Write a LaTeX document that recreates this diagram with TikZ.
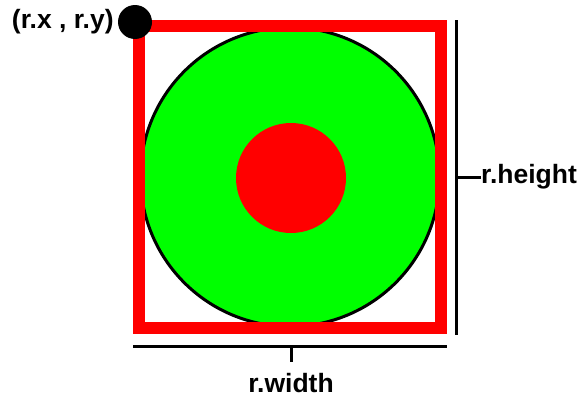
\documentclass[tikz,border=0pt]{standalone}
\usepackage{fontspec}
\setmainfont{Liberation Sans}
\usetikzlibrary{positioning}
\definecolor{RectRed}{HTML}{FF0000}
\definecolor{DiscGreen}{HTML}{00FF00}
\tikzset{
    % Shapes
    disc/.style={
        circle,
        draw=black,
        fill=DiscGreen,
        line width=3pt,
        minimum size=299pt,
        inner sep=0pt
    },
    core/.style={
        circle,
        fill=RectRed,
        minimum size=110pt,
        inner sep=0pt
    },
    frame/.style={
        draw=RectRed,
        line width=12pt
    },
    corner/.style={
        circle,
        fill=black,
        minimum size=34pt,
        inner sep=0pt
    },
    % Dimension marks
    dimline/.style={
        line width=3pt,
        draw=black
    },
    dimlabel/.style={
        font=\fontsize{26.5}{30}\selectfont\bfseries,
        inner sep=0pt
    }
}
\begin{document}
\begin{tikzpicture}[x=1pt, y=-1pt]
    \useasboundingbox (0,0) rectangle (578,399);

    % Circles
    \node[disc] (outer) at (290,177) {};
    \node[core] (inner) at (291,178) {};

    % Rectangle
    \draw[frame] (139,26) rectangle (441,328);

    % Corner point
    \node[corner] (dot) at (135,22) {};
    \node[dimlabel, left=4pt of dot] (xy) {(r.x , r.y)};

    % Height mark
    \coordinate (htop) at (456,20);
    \coordinate (hbot) at (456,335);
    \coordinate (hmid) at (456,177);
    \draw[dimline] (htop) -- (hbot);
    \node[dimlabel, anchor=west] (hlabel) at (481,177) {r.height};
    \draw[dimline] (hmid) -- (hlabel.west);

    % Width mark
    \coordinate (wleft) at (133,346);
    \coordinate (wright) at (447,346);
    \coordinate (wmid) at (291,346);
    \draw[dimline] (wleft) -- (wright);
    \node[dimlabel, anchor=north] (wlabel) at (291,373) {r.width};
    \draw[dimline] (wmid) -- ([yshift=11pt]wlabel.north);
\end{tikzpicture}
\end{document}
